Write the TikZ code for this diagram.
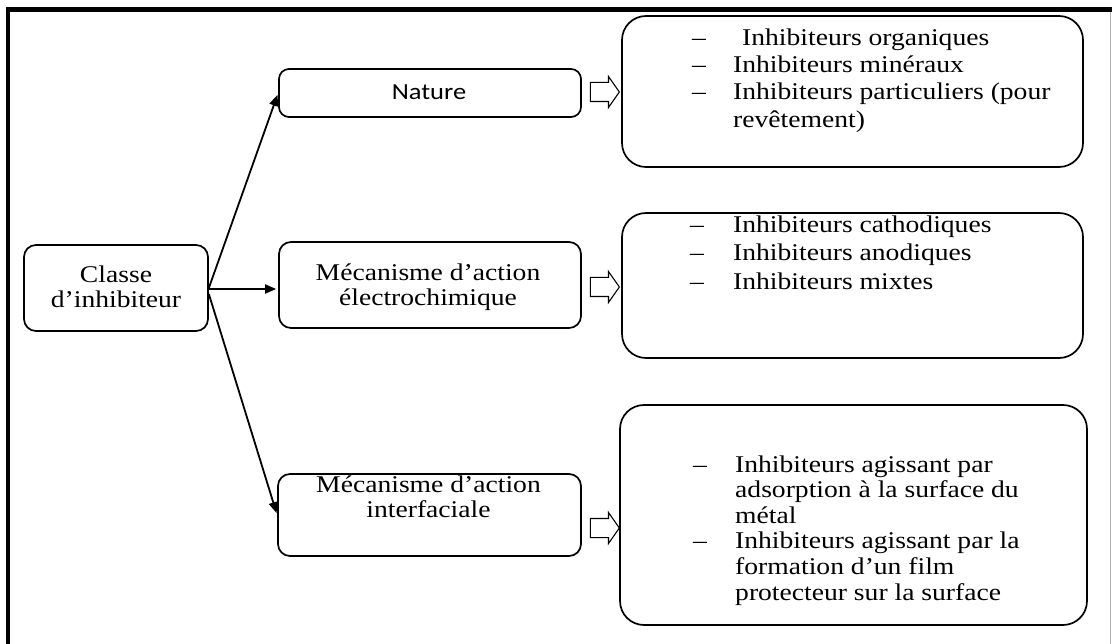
\documentclass[tikz,border=0pt]{standalone}
\usepackage{fontspec}
\setmainfont{Liberation Serif}[FakeStretch=1.15]
\newfontfamily\natfont{Carlito}[FakeStretch=1.15]
\usepackage{array}
\usetikzlibrary{arrows.meta,positioning,shapes.arrows,calc}

\begin{document}
\begin{tikzpicture}[x=1pt,y=-1pt,
  clsbox/.style={draw,rounded corners=12pt,line width=1.7pt,inner sep=0pt},
  listbox/.style={draw,rounded corners=24pt,line width=1.7pt,inner sep=0pt},
  clstext/.style={inner sep=0pt,anchor=north,font=\fontsize{24}{25}\selectfont},
  listtext/.style={inner sep=0pt,anchor=north west},
  hollow/.style={draw,single arrow,line width=1.1pt,minimum height=29pt,inner xsep=0pt,inner ysep=9pt,
    single arrow head extend=6pt,single arrow tip angle=110},
  conn/.style={-{Triangle[length=11pt,width=9pt]},line width=1.8pt,shorten >=2pt}
]
  \useasboundingbox (0,0) rectangle (1112,644);
  % frame
  \fill (6,7) rectangle (1112,12);
  \fill (6,7) rectangle (10,644);
  \draw[gray!60,line width=0.8pt] (1110,12) -- (1110,644);

  % Classe
  \node[clsbox,minimum width=184pt,minimum height=86pt] (classe) at (116,288) {};
  \node[clstext] (classetxt) at (116,264.5) {\begin{tabular}{@{}c@{}}Classe\\d'inhibiteur\end{tabular}};

  % Nature
  \node[clsbox,rounded corners=10pt,minimum width=302pt,minimum height=48pt] (nature) at (430,93) {};
  \node[inner sep=0pt,anchor=base,font=\natfont\fontsize{23}{25}\selectfont] (naturetxt) at (429,100) {Nature};

  % electrochimique
  \node[clsbox,minimum width=302pt,minimum height=86pt] (electro) at (430,285) {};
  \node[clstext] (electrotxt) at (428,262.5) {\begin{tabular}{@{}c@{}}Mécanisme d'action\\électrochimique\end{tabular}};

  % interfaciale
  \node[clsbox,minimum width=303pt,minimum height=82pt] (interf) at (429.5,515) {};
  \node[clstext] (interftxt) at (428.5,474.5) {\begin{tabular}{@{}c@{}}Mécanisme d'action\\interfaciale\end{tabular}};

  % lists
  \node[listbox,minimum width=461pt,minimum height=151pt] (list1) at (852.5,91.5) {};
  \node[listtext,font=\fontsize{24}{27.3}\selectfont] (list1txt) at (692,25.9) {%
    \begin{tabular}{@{}p{41pt}@{}l@{}}
      -- & \hspace{9pt}Inhibiteurs organiques\\
      -- & Inhibiteurs minéraux\\
      -- & Inhibiteurs particuliers (pour\\
         & revêtement)
    \end{tabular}};

  \node[listbox,minimum width=461pt,minimum height=145pt] (list2) at (852.5,285.5) {};
  \node[listtext,font=\fontsize{24}{28.5}\selectfont] (list2txt) at (690,212) {%
    \begin{tabular}{@{}p{43pt}@{}l@{}}
      -- & Inhibiteurs cathodiques\\
      -- & Inhibiteurs anodiques\\
      -- & Inhibiteurs mixtes
    \end{tabular}};

  \node[listbox,minimum width=467pt,minimum height=220pt] (list3) at (853.5,515) {};
  \node[listtext,font=\fontsize{24}{25.6}\selectfont] (list3txt) at (693,454) {%
    \begin{tabular}{@{}p{42pt}@{}l@{}}
      -- & Inhibiteurs agissant par\\
         & adsorption à la surface du\\
         & métal\\
      -- & Inhibiteurs agissant par la\\
         & formation d'un film\\
         & protecteur sur la surface
    \end{tabular}};

  % hollow arrows
  \node[hollow] (h1) at (601.5,92) {};
  \node[hollow] (h2) at (601.5,287) {};
  \node[hollow] (h3) at (601.5,528) {};

  % arrows from classe
  \draw[conn] (classe.east) -- (nature.west);
  \draw[conn] ([yshift=-1pt]classe.east) -- ([yshift=-1pt]classe.east -| electro.west);
  \draw[conn] ([yshift=-6pt]classe.east) -- (interf.west);
\end{tikzpicture}
\end{document}
